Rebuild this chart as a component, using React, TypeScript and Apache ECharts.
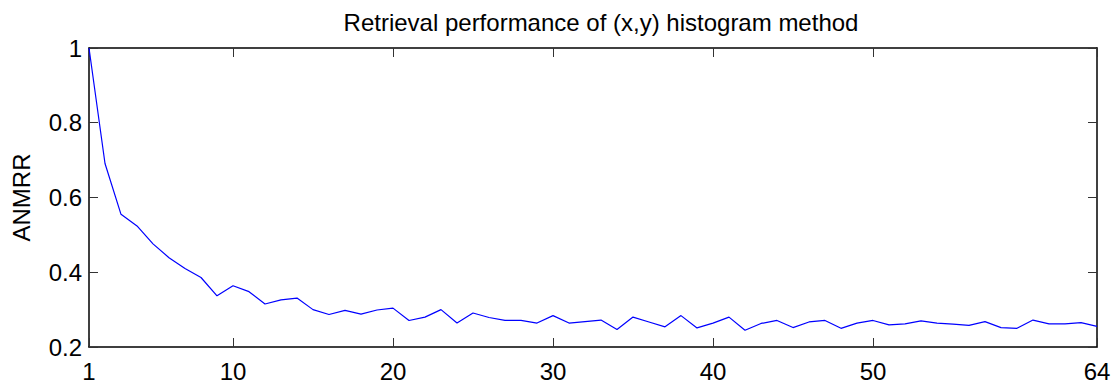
import React, { useEffect, useRef } from "react";
import * as echarts from "echarts";

const titleText = "Retrieval performance of (x,y) histogram method";
const yAxisName = "ANMRR";
const xTickValues = [1, 10, 20, 30, 40, 50, 64];
const yTickLabels = ["0.2", "0.4", "0.6", "0.8", "1"];
const xValues = Array.from({ length: 64 }, (_, i) => i + 1);
const anmrr = [
  1.0, 0.691, 0.555, 0.524, 0.476, 0.439, 0.41, 0.386, 0.337, 0.364,
  0.348, 0.315, 0.326, 0.331, 0.3, 0.287, 0.298, 0.288, 0.299, 0.304,
  0.271, 0.28, 0.3, 0.264, 0.291, 0.279, 0.271, 0.271, 0.264, 0.284,
  0.264, 0.268, 0.272, 0.247, 0.28, 0.267, 0.254, 0.284, 0.251, 0.264,
  0.28, 0.245, 0.263, 0.271, 0.252, 0.267, 0.271, 0.25, 0.264, 0.271,
  0.259, 0.262, 0.27, 0.264, 0.261, 0.258, 0.268, 0.252, 0.25, 0.272,
  0.262, 0.262, 0.265, 0.255,
];

const FONT = "'Liberation Sans', Arial, Helvetica, sans-serif";

export default function App() {
  const ref = useRef<HTMLDivElement>(null);
  useEffect(() => {
    if (!ref.current) return;
    const chart = echarts.init(ref.current, null, { renderer: "svg" });
    const axisLine = { show: true, lineStyle: { color: "#000", width: 1.5 } };
    const tickStyle = { color: "#333", width: 1 };
    chart.setOption({
      animation: false,
      backgroundColor: "#fff",
      title: {
        text: titleText,
        left: 596,
        textAlign: "center",
        top: 5,
        textStyle: { fontFamily: FONT, fontSize: 24, fontWeight: "normal", color: "#000" },
      },
      grid: { left: 89, right: 19, top: 48, bottom: 33 },
      xAxis: [
        {
          type: "value",
          min: 1,
          max: 64,
          position: "bottom",
          axisLine,
          axisTick: { show: true, inside: true, length: 9, lineStyle: tickStyle, customValues: xTickValues },
          axisLabel: {
            show: true,
            customValues: xTickValues,
            fontFamily: FONT,
            fontSize: 24,
            color: "#000",
            margin: 12,
          },
          splitLine: { show: false },
        },
        {
          type: "value",
          min: 1,
          max: 64,
          position: "top",
          axisLine,
          axisTick: { show: true, inside: true, length: 9, lineStyle: tickStyle, customValues: xTickValues },
          axisLabel: { show: false },
          splitLine: { show: false },
        },
      ],
      yAxis: [
        {
          type: "value",
          min: 0.2,
          max: 1,
          interval: 0.2,
          position: "left",
          name: yAxisName,
          nameLocation: "middle",
          nameGap: 56,
          nameTextStyle: { fontFamily: FONT, fontSize: 24, color: "#000" },
          axisLine,
          axisTick: { show: true, inside: true, length: 9, lineStyle: tickStyle },
          axisLabel: {
            show: true,
            fontFamily: FONT,
            fontSize: 24,
            color: "#000",
            margin: 7,
            formatter: (v: number) => {
              const idx = Math.round((v - 0.2) / 0.2);
              return yTickLabels[idx] ?? "";
            },
          },
          splitLine: { show: false },
        },
        {
          type: "value",
          min: 0.2,
          max: 1,
          interval: 0.2,
          position: "right",
          axisLine,
          axisTick: { show: true, inside: true, length: 9, lineStyle: tickStyle },
          axisLabel: { show: false },
          splitLine: { show: false },
        },
      ],
      series: [
        {
          type: "line",
          xAxisIndex: 0,
          yAxisIndex: 0,
          data: xValues.map((x, i) => [x, anmrr[i]]),
          showSymbol: false,
          symbol: "none",
          lineStyle: { color: "#0000ff", width: 1.2 },
        },
      ],
    });
    return () => chart.dispose();
  }, []);
  return (
    <div
      ref={ref}
      style={{ position: "fixed", left: 0, top: 0, width: 1116, height: 383, background: "#fff" }}
    />
  );
}
